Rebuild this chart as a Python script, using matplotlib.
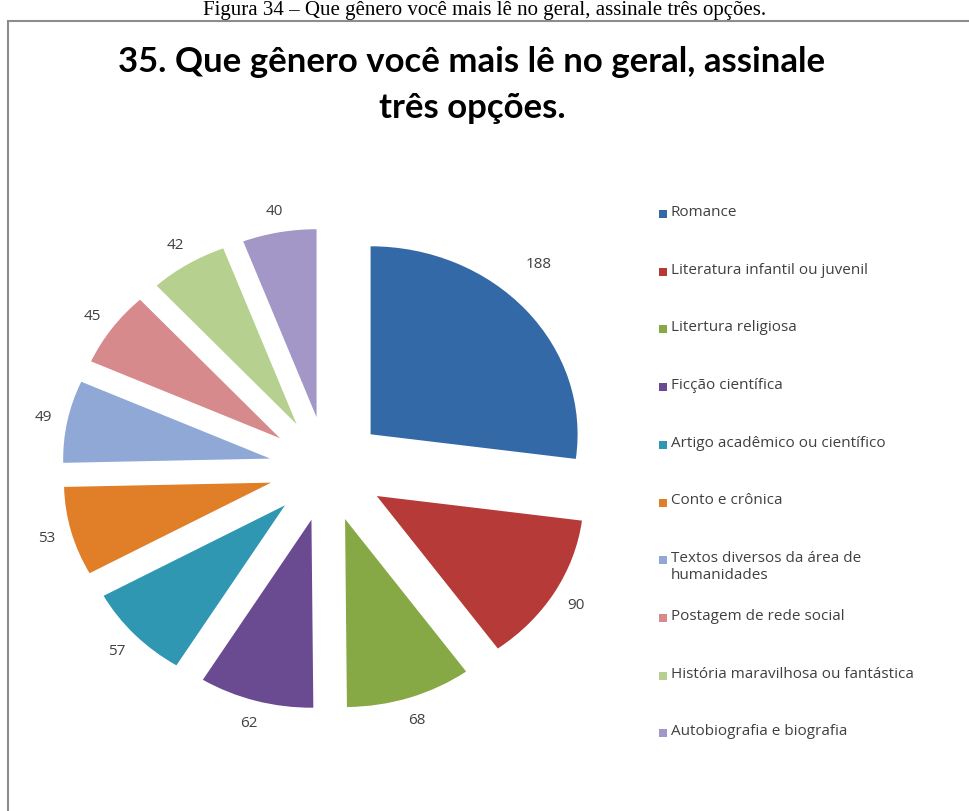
import numpy as np
import matplotlib.pyplot as plt
from matplotlib.patches import Rectangle

generos = ['Romance', 'Literatura infantil ou juvenil', 'Litertura religiosa',
           'Ficção científica', 'Artigo acadêmico ou científico', 'Conto e crônica',
           'Textos diversos da área de\nhumanidades', 'Postagem de rede social',
           'História maravilhosa ou fantástica', 'Autobiografia e biografia']
respostas = [188, 90, 68, 62, 57, 53, 49, 45, 42, 40]
cores = ['#3269A6', '#B53A38', '#86A845', '#6A4B91', '#2F97B2', '#E07F28',
         '#8FA8D6', '#D78A8C', '#B6D08F', '#A297C6']

W, H = 969, 812
fig = plt.figure(figsize=(W / 100, H / 100), dpi=100)

# legenda da figura no topo
fig.text(485 / W, 1 - 10 / H,
         'Figura 34 – Que gênero você mais lê no geral, assinale três opções.',
         ha='center', va='center', fontsize=15, family='Liberation Serif', color='black')

# moldura do gráfico
fig.add_artist(Rectangle((8 / W, -0.1), 1.2, 1.1 - 22 / H, transform=fig.transFigure,
                         fill=False, edgecolor='#8c8c8c', linewidth=1.5))

fig.text(472 / W, 1 - 62 / H, '35. Que gênero você mais lê no geral, assinale',
         ha='center', va='center', fontsize=25, fontweight='bold', family='Lato', color='black')
fig.text(472 / W, 1 - 108 / H, 'três opções.',
         ha='center', va='center', fontsize=25, fontweight='bold', family='Lato', color='black')

# eixo da pizza, esticado na horizontal
px_x, px_y = 207, 188
cx, cy = 327, 470
xl, yl = 1.5, 1.7
ax = fig.add_axes([(cx - xl * px_x) / W, (H - cy - yl * px_y) / H,
                   2 * xl * px_x / W, 2 * yl * px_y / H])

wedges, _ = ax.pie(respostas, colors=cores, startangle=90, counterclock=False,
                   explode=[0.28] * len(respostas), radius=1,
                   wedgeprops=dict(linewidth=0))
ax.set_aspect('auto')
ax.set_xlim(-xl, xl)
ax.set_ylim(-yl, yl)
ax.axis('off')

maior = max(respostas)
for w, v in zip(wedges, respostas):
    ang = np.deg2rad((w.theta1 + w.theta2) / 2)
    x0, y0 = w.center
    if v == maior:
        # rótulo do maior setor fica mais afastado e mais alto
        ang += np.deg2rad(7)
        dist = 1.22
    else:
        dist = 1.12
    ax.text(x0 + dist * np.cos(ang), y0 + dist * np.sin(ang), str(v),
            ha='center', va='center', fontsize=11, family='Open Sans', color='#404040')

# legenda à direita
for i, (g, c) in enumerate(zip(generos, cores)):
    y = 215 + i * 57.7
    fig.add_artist(Rectangle((659 / W, 1 - (y + 4) / H), 8 / W, 8 / H,
                             transform=fig.transFigure, facecolor=c, edgecolor='none'))
    fig.text(671 / W, 1 - (y - 10) / H, g, ha='left', va='top', fontsize=11,
             family='Open Sans', color='#404040', linespacing=1.15)

fig.savefig('out.png', dpi=100, facecolor='white')
